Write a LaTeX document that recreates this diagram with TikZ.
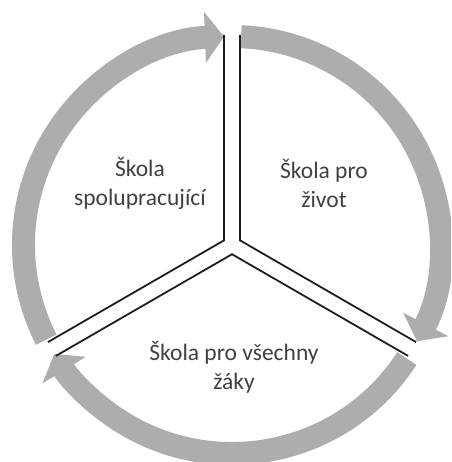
\documentclass[tikz,border=0pt]{standalone}
\usepackage{fontspec}
\setmainfont{Carlito}
\usetikzlibrary{arrows.meta}
\definecolor{ringgray}{HTML}{ADADAD}
\definecolor{textgray}{HTML}{404040}
\definecolor{linecol}{HTML}{1E1E1E}
\tikzset{
  ringarc/.style={draw=ringgray, line width=23pt, -{Triangle[length=19pt,width=50pt]}},
  divider/.style={draw=linecol, line width=1.8pt, line join=miter},
  label/.style={text=textgray, align=center, font=\fontsize{23.5}{29}\selectfont}
}
\begin{document}
\begin{tikzpicture}[x=1pt,y=1pt]
\useasboundingbox (-232,-217) rectangle (219,245);
\clip (-232,-217) rectangle (219,245);
% ring arrows
\draw[ringarc] (207:208.5) arc[start angle=207, end angle=92.2, radius=208.5];
\draw[ringarc] (87.5:208.5) arc[start angle=87.5, end angle=-27.5, radius=208.5];
\draw[ringarc] (-33:208.5) arc[start angle=-33, end angle=-148.5, radius=208.5];
% dividers
\draw[divider] (-8,210) -- (-8,4.62) -- (-184.1,-97.1);
\draw[divider] (8,210) -- (8,4.62) -- (184.1,-97.1);
\draw[divider] (-176.1,-110.9) -- (0,-9.24) -- (176.1,-110.9);
% labels
\node[label] (a) at (-92,62) {Škola\\spolupracující};
\node[label] (b) at (92,62) {Škola pro\\život};
\node[label] (c) at (2,-122) {Škola pro všechny\\žáky};
\end{tikzpicture}
\end{document}
